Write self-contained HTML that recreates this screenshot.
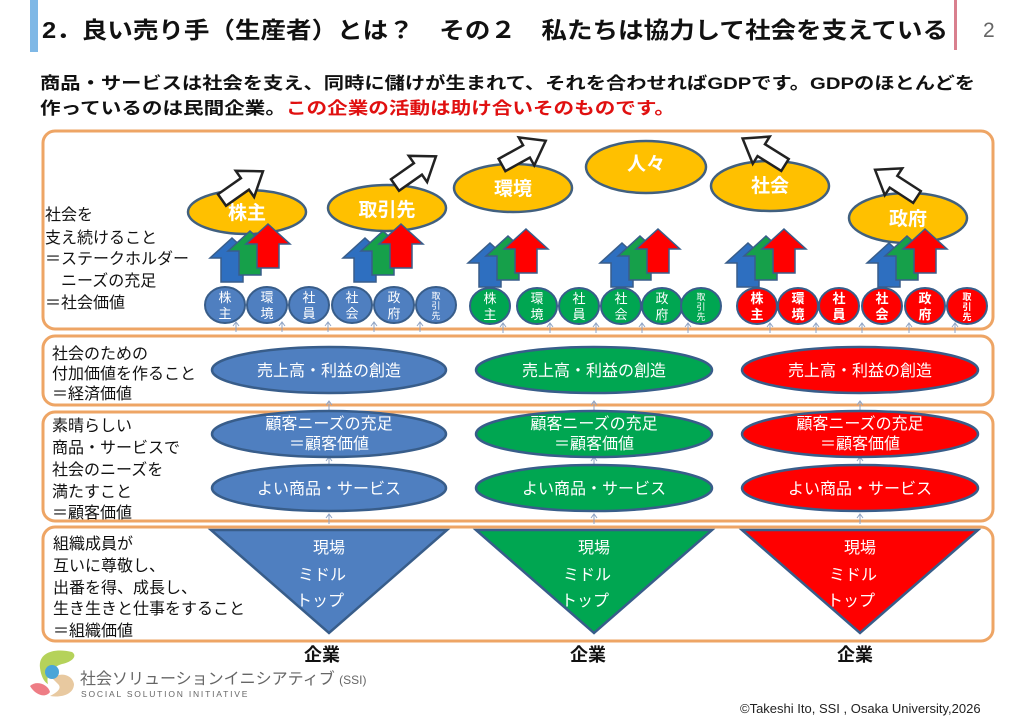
<!DOCTYPE html>
<html><head><meta charset="utf-8"><style>
html,body{margin:0;padding:0;background:#fff;width:1024px;height:724px;overflow:hidden}
svg{display:block}
text{font-family:"Liberation Sans","Noto Sans CJK JP",sans-serif}
</style></head><body>
<svg width="1024" height="724" viewBox="0 0 1024 724" xmlns="http://www.w3.org/2000/svg">
<defs>
<g id="ua"><polygon points="0,0 22,20 11,20 11,44 -11,44 -11,20 -22,20"/></g>
<g id="wa"><polygon points="0,-7 28,-7 28,-16 50,0 28,16 28,7 0,7" fill="#fff" stroke="#222" stroke-width="2.5" stroke-linejoin="miter"/></g>
<g id="sa" stroke="#8fa3c4" stroke-width="1" fill="none"><line x1="0" y1="0" x2="0" y2="10"/><polyline points="-3,4 0,0 3,4"/></g>
</defs>

<!-- header -->
<rect x="30" y="0" width="8" height="52" fill="#7fb8e6"/>
<rect x="954" y="0" width="3" height="50" fill="#d9808e"/>
<text x="42" y="38" font-size="23" font-weight="bold" fill="#111" textLength="906" lengthAdjust="spacingAndGlyphs">2．良い売り手（生産者）とは？　その２　私たちは協力して社会を支えている</text>
<text x="983" y="37" font-size="21" fill="#666">2</text>
<text x="40" y="89" font-size="17" font-weight="bold" fill="#111" textLength="935" lengthAdjust="spacingAndGlyphs">商品・サービスは社会を支え、同時に儲けが生まれて、それを合わせればGDPです。GDPのほとんどを</text>
<text x="40" y="114" font-size="17" font-weight="bold" fill="#111" textLength="635" lengthAdjust="spacingAndGlyphs">作っているのは民間企業。<tspan fill="#e01010">この企業の活動は助け合いそのものです。</tspan></text>

<!-- boxes -->
<g fill="none" stroke="#eea565" stroke-width="3">
<rect x="43" y="131" width="950" height="198" rx="12"/>
<rect x="43" y="336" width="950" height="69" rx="12"/>
<rect x="43" y="412" width="950" height="109" rx="12"/>
<rect x="43" y="527" width="950" height="114" rx="12"/>
</g>

<!-- left labels -->
<g font-size="16" fill="#111">
<text x="45" y="220">社会を</text>
<text x="45" y="243">支え続けること</text>
<text x="45" y="264">＝ステークホルダー</text>
<text x="45" y="286">　ニーズの充足</text>
<text x="45" y="308">＝社会価値</text>
<text x="52" y="359">社会のための</text>
<text x="52" y="379">付加価値を作ること</text>
<text x="52" y="399">＝経済価値</text>
<text x="52" y="431">素晴らしい</text>
<text x="52" y="453">商品・サービスで</text>
<text x="52" y="475">社会のニーズを</text>
<text x="52" y="497">満たすこと</text>
<text x="52" y="518">＝顧客価値</text>
<text x="53" y="549">組織成員が</text>
<text x="53" y="571">互いに尊敬し、</text>
<text x="53" y="593">出番を得、成長し、</text>
<text x="53" y="614">生き生きと仕事をすること</text>
<text x="53" y="636">＝組織価値</text>
</g>

<!-- yellow ellipses -->
<g fill="#ffc000" stroke="#41607f" stroke-width="2.5">
<ellipse cx="247" cy="212" rx="59" ry="22"/>
<ellipse cx="387" cy="208" rx="59" ry="23"/>
<ellipse cx="513" cy="188" rx="59" ry="24"/>
<ellipse cx="646" cy="167" rx="60" ry="26"/>
<ellipse cx="770" cy="186" rx="59" ry="25"/>
<ellipse cx="908" cy="218" rx="59" ry="25"/>
</g>
<g font-size="19" font-weight="bold" fill="#fff" text-anchor="middle">
<text x="247" y="219">株主</text>
<text x="387" y="216">取引先</text>
<text x="513" y="195">環境</text>
<text x="646" y="170">人々</text>
<text x="770" y="192">社会</text>
<text x="908" y="225">政府</text>
</g>

<!-- white arrows -->
<use href="#wa" transform="translate(222,200) rotate(-35)"/>
<use href="#wa" transform="translate(395,185) rotate(-35)"/>
<use href="#wa" transform="translate(502,165) rotate(-29)"/>
<use href="#wa" transform="translate(785,165) rotate(-148)"/>
<use href="#wa" transform="translate(917,197) rotate(-147)"/>

<!-- tri-color up arrows -->
<g stroke="#385d8a" stroke-width="1.5">
<g><use href="#ua" fill="#2e6fc0" transform="translate(232,238)"/><use href="#ua" fill="#16a04a" transform="translate(250,231)"/><use href="#ua" fill="#ff0000" transform="translate(268,224)"/></g>
<g><use href="#ua" fill="#2e6fc0" transform="translate(365,238)"/><use href="#ua" fill="#16a04a" transform="translate(383,231)"/><use href="#ua" fill="#ff0000" transform="translate(401,224)"/></g>
<g><use href="#ua" fill="#2e6fc0" transform="translate(490,243)"/><use href="#ua" fill="#16a04a" transform="translate(508,236)"/><use href="#ua" fill="#ff0000" transform="translate(526,229)"/></g>
<g><use href="#ua" fill="#2e6fc0" transform="translate(622,243)"/><use href="#ua" fill="#16a04a" transform="translate(640,236)"/><use href="#ua" fill="#ff0000" transform="translate(658,229)"/></g>
<g><use href="#ua" fill="#2e6fc0" transform="translate(748,243)"/><use href="#ua" fill="#16a04a" transform="translate(766,236)"/><use href="#ua" fill="#ff0000" transform="translate(784,229)"/></g>
<g><use href="#ua" fill="#2e6fc0" transform="translate(889,243)"/><use href="#ua" fill="#16a04a" transform="translate(907,236)"/><use href="#ua" fill="#ff0000" transform="translate(925,229)"/></g>
</g>

<!-- stakeholder circles -->
<g stroke="#385d8a" stroke-width="2">
<g fill="#4f7fc0">
<ellipse cx="225" cy="305" rx="20" ry="18"/><ellipse cx="267" cy="305" rx="20" ry="18"/><ellipse cx="309" cy="305" rx="20" ry="18"/><ellipse cx="352" cy="305" rx="20" ry="18"/><ellipse cx="394" cy="305" rx="20" ry="18"/><ellipse cx="436" cy="305" rx="20" ry="18"/>
</g>
<g fill="#00a651">
<ellipse cx="490" cy="306" rx="20" ry="18"/><ellipse cx="537" cy="306" rx="20" ry="18"/><ellipse cx="579" cy="306" rx="20" ry="18"/><ellipse cx="621" cy="306" rx="20" ry="18"/><ellipse cx="662" cy="306" rx="20" ry="18"/><ellipse cx="701" cy="306" rx="20" ry="18"/>
</g>
<g fill="#ff0000">
<ellipse cx="757" cy="306" rx="20" ry="18"/><ellipse cx="798" cy="306" rx="20" ry="18"/><ellipse cx="839" cy="306" rx="20" ry="18"/><ellipse cx="882" cy="306" rx="20" ry="18"/><ellipse cx="925" cy="306" rx="20" ry="18"/><ellipse cx="967" cy="306" rx="20" ry="18"/>
</g>
</g>
<g fill="#fff" font-size="13" text-anchor="middle">
<text x="225" y="302">株</text><text x="225" y="318">主</text>
<text x="267" y="302">環</text><text x="267" y="318">境</text>
<text x="309" y="302">社</text><text x="309" y="318">員</text>
<text x="352" y="302">社</text><text x="352" y="318">会</text>
<text x="394" y="302">政</text><text x="394" y="318">府</text>
<text x="490" y="303">株</text><text x="490" y="319">主</text>
<text x="537" y="303">環</text><text x="537" y="319">境</text>
<text x="579" y="303">社</text><text x="579" y="319">員</text>
<text x="621" y="303">社</text><text x="621" y="319">会</text>
<text x="662" y="303">政</text><text x="662" y="319">府</text>
<text x="757" y="303" font-weight="bold">株</text><text x="757" y="319" font-weight="bold">主</text>
<text x="798" y="303" font-weight="bold">環</text><text x="798" y="319" font-weight="bold">境</text>
<text x="839" y="303" font-weight="bold">社</text><text x="839" y="319" font-weight="bold">員</text>
<text x="882" y="303" font-weight="bold">社</text><text x="882" y="319" font-weight="bold">会</text>
<text x="925" y="303" font-weight="bold">政</text><text x="925" y="319" font-weight="bold">府</text>
</g>
<g fill="#fff" font-size="9" text-anchor="middle">
<text x="436" y="299">取</text><text x="436" y="309">引</text><text x="436" y="319">先</text>
<text x="701" y="300">取</text><text x="701" y="310">引</text><text x="701" y="320">先</text>
<text x="967" y="300" font-weight="bold">取</text><text x="967" y="310" font-weight="bold">引</text><text x="967" y="320" font-weight="bold">先</text>
</g>

<!-- small arrows -->
<g>
<use href="#sa" x="236" y="322"/><use href="#sa" x="282" y="322"/><use href="#sa" x="328" y="322"/><use href="#sa" x="374" y="322"/><use href="#sa" x="420" y="322"/>
<use href="#sa" x="503" y="323"/><use href="#sa" x="550" y="323"/><use href="#sa" x="596" y="323"/><use href="#sa" x="642" y="323"/><use href="#sa" x="688" y="323"/>
<use href="#sa" x="770" y="323"/><use href="#sa" x="816" y="323"/><use href="#sa" x="862" y="323"/><use href="#sa" x="909" y="323"/><use href="#sa" x="955" y="323"/>
<use href="#sa" x="329" y="401"/><use href="#sa" x="594" y="401"/><use href="#sa" x="860" y="401"/>
<use href="#sa" x="329" y="457"/><use href="#sa" x="594" y="457"/><use href="#sa" x="860" y="457"/>
<use href="#sa" x="329" y="514"/><use href="#sa" x="594" y="514"/><use href="#sa" x="860" y="514"/>
</g>

<!-- column ellipses -->
<g stroke="#385d8a" stroke-width="2.5">
<g fill="#4f7fc0">
<ellipse cx="329" cy="370" rx="117" ry="23"/><ellipse cx="329" cy="434" rx="117" ry="23"/><ellipse cx="329" cy="488" rx="117" ry="23"/>
<polygon points="211,530 447,530 329,633"/>
</g>
<g fill="#00a651">
<ellipse cx="594" cy="370" rx="118" ry="23"/><ellipse cx="594" cy="434" rx="118" ry="23"/><ellipse cx="594" cy="488" rx="118" ry="23"/>
<polygon points="476,530 712,530 594,633"/>
</g>
<g fill="#ff0000">
<ellipse cx="860" cy="370" rx="118" ry="23"/><ellipse cx="860" cy="434" rx="118" ry="23"/><ellipse cx="860" cy="488" rx="118" ry="23"/>
<polygon points="742,530 978,530 860,633"/>
</g>
</g>
<g fill="#fff" font-size="16" text-anchor="middle">
<text x="329" y="376">売上高・利益の創造</text><text x="594" y="376">売上高・利益の創造</text><text x="860" y="376">売上高・利益の創造</text>
<text x="329" y="429">顧客ニーズの充足</text><text x="594" y="429">顧客ニーズの充足</text><text x="860" y="429">顧客ニーズの充足</text>
<text x="329" y="449">＝顧客価値</text><text x="594" y="449">＝顧客価値</text><text x="860" y="449">＝顧客価値</text>
<text x="329" y="494">よい商品・サービス</text><text x="594" y="494">よい商品・サービス</text><text x="860" y="494">よい商品・サービス</text>
<text x="329" y="553">現場</text><text x="594" y="553">現場</text><text x="860" y="553">現場</text>
<text x="322" y="580">ミドル</text><text x="587" y="580">ミドル</text><text x="853" y="580">ミドル</text>
<text x="320" y="606">トップ</text><text x="585" y="606">トップ</text><text x="851" y="606">トップ</text>
</g>
<g font-size="18" font-weight="bold" fill="#111" text-anchor="middle">
<text x="322" y="661">企業</text><text x="588" y="661">企業</text><text x="855" y="661">企業</text>
</g>

<!-- logo -->
<path d="M40,668 C38,652 55,648 72,652 C78,656 72,662 62,664 C50,668 46,676 48,684 C44,682 41,676 40,668Z" fill="#b5d25a"/>
<path d="M52,678 C60,672 72,674 74,684 C74,694 62,698 50,696 C58,692 62,688 58,684Z" fill="#e8c9a0"/>
<circle cx="52" cy="672" r="7" fill="#4aa5d8"/>
<path d="M30,686 C36,680 48,684 50,692 C46,698 36,696 30,686Z" fill="#ee7d85"/>
<text x="80" y="684" font-size="16" fill="#666">社会ソリューションイニシアティブ <tspan font-size="12">(SSI)</tspan></text>
<text x="81" y="697" font-size="8.5" fill="#666" letter-spacing="1.8">SOCIAL SOLUTION INITIATIVE</text>

<text x="740" y="713" font-size="13" fill="#222">©Takeshi Ito, SSI , Osaka University,2026</text>
</svg>
</body></html>
